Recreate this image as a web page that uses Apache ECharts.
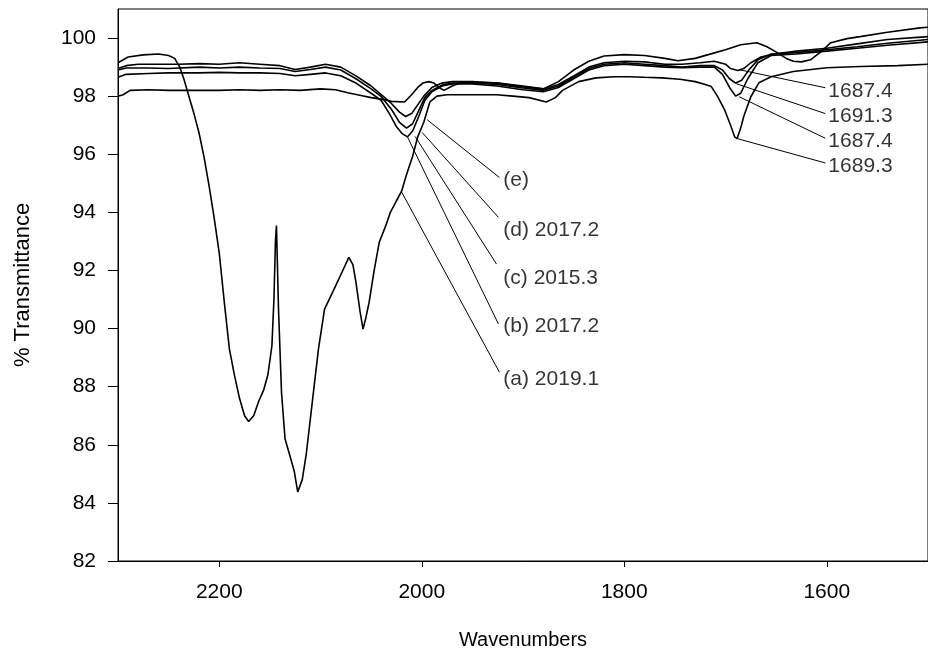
<!DOCTYPE html>
<html>
<head>
<meta charset="utf-8">
<script src="https://cdn.jsdelivr.net/npm/echarts@6/dist/echarts.min.js"></script>
<style>html,body{margin:0;padding:0;background:#fff;}#chart{width:928px;height:655px;}</style>
</head>
<body>
<div id="chart"></div>
<script>
// ---- data (wavenumber, % transmittance) ----
var waveA = [2300,2290,2275,2260,2250,2244,2239,2235,2230,2225,2220,2215,2210,2205,2200,2195,2190,2185,2180,2175,2171,2166,2161,2156,2152,2148,2146,2144.5,2143.5,2141.5,2138.5,2135,2130,2126,2122.5,2118,2114,2109,2102,2096,2086,2078,2072,2068,2065,2061,2058,2055,2052,2047,2042,2036,2031,2025,2020,2015,2009,2004,1998,1992,1985,1975,1950,1926,1910,1894,1877,1868,1861,1845,1828,1810,1796,1780,1763,1745,1730,1720,1714,1708,1701,1695,1691,1688.5,1685,1682,1675,1667,1655,1633,1600,1567,1530,1500];
var transA = [99.15,99.35,99.42,99.45,99.4,99.3,99.0,98.6,98.0,97.4,96.74,95.9,94.9,93.8,92.6,90.9,89.3,88.4,87.6,87.0,86.8,87.0,87.5,87.9,88.4,89.4,91.0,93.0,93.55,90.7,87.8,86.2,85.6,85.1,84.38,84.8,85.7,87.2,89.3,90.67,91.4,92.0,92.45,92.2,91.6,90.6,89.98,90.4,90.9,92.0,92.97,93.5,94.0,94.4,94.72,95.3,95.93,96.6,97.1,97.8,98.0,98.05,98.05,98.05,98.0,97.95,97.8,97.95,98.2,98.5,98.63,98.67,98.67,98.65,98.63,98.58,98.5,98.4,98.33,98.0,97.54,97.0,96.6,96.54,96.9,97.3,97.98,98.46,98.67,98.85,98.98,99.02,99.05,99.1];

var waveB = [2300,2292,2270,2250,2220,2200,2180,2160,2140,2125,2110,2095,2080,2065,2050,2040,2032,2025,2019,2014,2009,2003,1997,1990,1980,1970,1950,1926,1900,1880,1865,1850,1835,1820,1800,1780,1760,1743,1725,1711,1703,1696,1690,1685,1678,1668,1655,1630,1600,1570,1540,1500];
var transB = [98.65,98.75,98.78,98.8,98.8,98.82,98.8,98.8,98.78,98.7,98.75,98.8,98.7,98.45,98.1,97.85,97.4,96.95,96.7,96.6,96.8,97.3,97.85,98.15,98.35,98.42,98.42,98.35,98.22,98.15,98.3,98.6,98.9,99.05,99.1,99.05,99.0,98.98,99.0,99.0,98.75,98.3,98.0,98.1,98.6,99.15,99.4,99.45,99.55,99.65,99.75,99.87];

var waveC = [2300,2292,2270,2250,2220,2200,2180,2160,2140,2125,2110,2095,2080,2065,2050,2040,2030,2022,2015,2009,2003,1997,1990,1980,1970,1950,1926,1900,1880,1865,1850,1835,1820,1800,1780,1760,1743,1725,1711,1703,1696,1690,1684,1677,1668,1655,1630,1600,1570,1540,1500];
var transC = [98.9,98.97,98.97,98.95,99.0,98.97,99.0,98.97,98.95,98.85,98.92,99.0,98.9,98.6,98.25,97.98,97.55,97.1,96.9,97.05,97.5,97.95,98.2,98.38,98.45,98.45,98.4,98.28,98.2,98.35,98.65,98.95,99.1,99.15,99.1,99.05,99.0,99.05,99.05,98.9,98.6,98.45,98.55,98.9,99.25,99.45,99.5,99.6,99.7,99.82,99.95];

var waveD = [2300,2292,2280,2260,2240,2220,2200,2180,2160,2140,2125,2110,2095,2080,2065,2050,2040,2030,2022,2016,2010,2004,1998,1990,1980,1970,1950,1926,1900,1880,1865,1850,1835,1820,1800,1780,1760,1743,1725,1711,1700,1695,1688,1682,1675,1665,1652,1630,1600,1570,1540,1500];
var transD = [98.95,99.05,99.1,99.1,99.1,99.12,99.1,99.15,99.1,99.05,98.92,99.0,99.1,99.0,98.7,98.35,98.05,97.75,97.45,97.3,97.4,97.7,98.0,98.3,98.45,98.5,98.5,98.45,98.32,98.25,98.4,98.7,99.0,99.15,99.2,99.18,99.1,99.1,99.15,99.2,99.1,98.95,98.88,98.95,99.15,99.35,99.45,99.55,99.65,99.8,99.95,100.05];

var waveE = [2300,2295,2288,2270,2250,2230,2200,2180,2160,2140,2120,2100,2085,2073,2060,2050,2037,2030,2017,2010,2004,1999,1993,1988,1983,1978,1970,1960,1926,1900,1880,1865,1850,1835,1820,1800,1780,1760,1747,1730,1717,1700,1685,1669,1659,1649,1640,1633,1625,1616,1605,1596,1580,1567,1540,1508,1500];
var transE = [98.0,98.05,98.2,98.22,98.2,98.2,98.2,98.22,98.2,98.22,98.2,98.25,98.22,98.12,98.02,97.95,97.88,97.82,97.8,98.05,98.3,98.45,98.5,98.45,98.3,98.2,98.35,98.48,98.46,98.35,98.25,98.5,98.9,99.2,99.38,99.43,99.4,99.3,99.22,99.3,99.43,99.6,99.77,99.84,99.7,99.5,99.3,99.2,99.18,99.25,99.55,99.84,99.98,100.05,100.2,100.35,100.37];

// annotation texts and their anchor (left-middle of text)
var labelTexts = ['(e)','(d) 2017.2','(c) 2015.3','(b) 2017.2','(a) 2019.1','1687.4','1691.3','1687.4','1689.3'];
var labelWave  = [1919.4,1919.4,1919.4,1919.4,1919.4,1598.4,1598.4,1598.4,1598.4];
var labelTrans = [95.09,93.37,91.75,90.07,88.25,98.18,97.32,96.46,95.60];
// leader lines: start on the spectrum, end near the text
var leaderFromWave  = [1994.7,1999.6,2006.5,2014.3,2020.2,1686.5,1689.4,1686.5,1688.5];
var leaderFromTrans = [97.19,96.75,96.61,96.61,94.72,98.91,98.43,97.98,96.54];
var leaderToWave    = [1923.3,1924.3,1926.2,1924.3,1923.3,1601.4,1601.4,1601.4,1601.4];
var leaderToTrans   = [95.2,93.83,92.22,90.16,88.5,98.29,97.4,96.55,95.7];

var xTicks = [1600,1800,2000,2200];
var yTicks = [82,84,86,88,90,92,94,96,98,100];

function pairs(w, t){ return w.map(function(v,i){ return [v, t[i]]; }); }
var FONT = 'Liberation Sans, Arial, sans-serif';

var spectra = [[waveA,transA],[waveB,transB],[waveC,transC],[waveD,transD],[waveE,transE]];
var series = spectra.map(function(s){
  return {type:'line', data:pairs(s[0], s[1]), showSymbol:false, symbol:'none',
    lineStyle:{color:'#000', width:1.6}, silent:true, z:3};
});
series.push({
  type:'scatter', symbolSize:0, silent:true, z:4,
  data: pairs(labelWave, labelTrans),
  label:{show:true, position:'right', distance:0, color:'#000', fontSize:21, fontFamily:FONT,
    formatter:function(p){ return labelTexts[p.dataIndex]; }},
  markLine:{symbol:'none', silent:true, animation:false, label:{show:false},
    lineStyle:{color:'#000', width:1, type:'solid'},
    data: leaderFromWave.map(function(w,i){
      return [{coord:[w, leaderFromTrans[i]]},{coord:[leaderToWave[i], leaderToTrans[i]]}];
    })}
});

var chart = echarts.init(document.getElementById('chart'), null, {renderer:'canvas'});
chart.setOption({
  animation:false,
  backgroundColor:'#fff',
  grid:{left:118, top:9, width:818, height:553, show:true, borderColor:'#000', borderWidth:1, containLabel:false},
  xAxis:{type:'value', min:1500, max:2300, inverse:true,
    name:'Wavenumbers', nameLocation:'middle', nameGap:69,
    nameTextStyle:{fontSize:20, color:'#000', fontFamily:FONT},
    axisLine:{show:true, lineStyle:{color:'#000', width:1}},
    axisTick:{show:true, length:6, inside:false, customValues:xTicks, lineStyle:{color:'#000'}},
    axisLabel:{customValues:xTicks, margin:21, fontSize:21, color:'#000', fontFamily:FONT,
      formatter:function(v){ return String(v); }},
    splitLine:{show:false}},
  yAxis:{type:'value', min:82, max:101,
    name:'% Transmittance', nameLocation:'middle', nameGap:84,
    nameTextStyle:{fontSize:22, color:'#000', fontFamily:FONT},
    axisLine:{show:true, lineStyle:{color:'#000', width:1}},
    axisTick:{show:true, length:10, inside:false, customValues:yTicks, lineStyle:{color:'#000'}},
    axisLabel:{customValues:yTicks, margin:22, fontSize:21, color:'#000', fontFamily:FONT,
      formatter:function(v){ return String(v); }},
    splitLine:{show:false}},
  series:series
});
</script>
</body>
</html>
